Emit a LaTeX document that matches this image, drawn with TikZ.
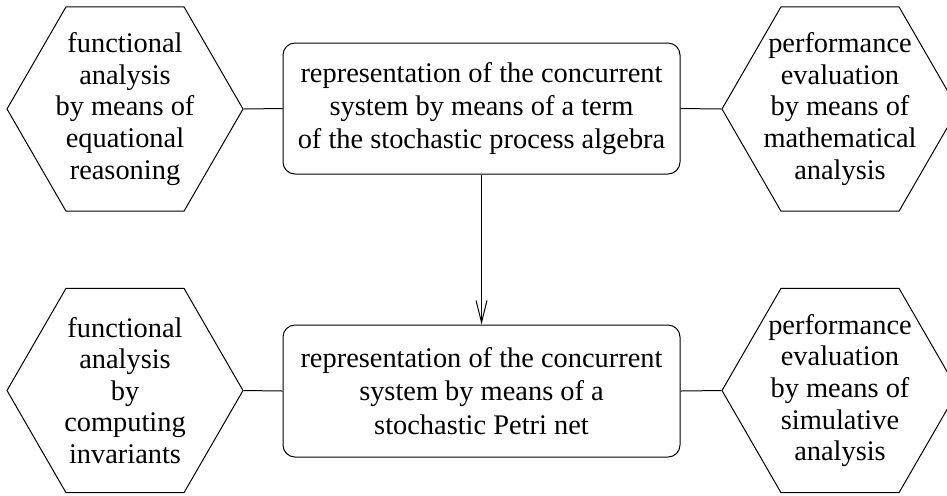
\documentclass[tikz,border=0pt]{standalone}
\usepackage{fontspec}
\setmainfont{Liberation Serif}
\usetikzlibrary{shapes,positioning}
\usetikzlibrary{arrows.meta}

\begin{document}
\begin{tikzpicture}[x=0.5pt,y=-0.5pt,
  hexa/.style={draw,regular polygon,regular polygon sides=6,minimum size=118pt,
    inner sep=-30pt,align=center,line width=0.5pt,font=\fontsize{14.2}{15.8}\selectfont},
  repr/.style={draw,rounded corners=6pt,minimum width=198.5pt,align=center,
    line width=0.5pt,font=\fontsize{14.2}{16.6}\selectfont},
  link/.style={line width=0.5pt}]

\useasboundingbox (0,0) rectangle (947,495);

\node[repr,minimum height=65.5pt] (alg) at (481.5,108.5)
  {representation of the concurrent\\ system by means of a term\\ of the stochastic process algebra};
\node[repr,minimum height=66pt] (net) at (481.5,391)
  {representation of the concurrent\\ system by means of a\\ stochastic Petri net};

\node[hexa] (fa1) at (125,109)
  {functional\\ analysis\\ by means of\\ equational\\ reasoning};
\node[hexa] (pe1) at (840,109)
  {performance\\ evaluation\\ by means of\\ mathematical\\ analysis};
\node[hexa] (fa2) at (125,390.5)
  {functional\\ analysis\\ by\\ computing\\ invariants};
\node[hexa] (pe2) at (840,390.5)
  {performance\\ evaluation\\ by means of\\ simulative\\ analysis};

\draw[link] (fa1.east) -- (alg.west);
\draw[link] (alg.east) -- (pe1.west);
\draw[link] (fa2.east) -- (net.west);
\draw[link] (net.east) -- (pe2.west);

\draw[link,-{Straight Barb[length=11pt,width=5.5pt]}] (alg) -- (net);

\end{tikzpicture}
\end{document}
